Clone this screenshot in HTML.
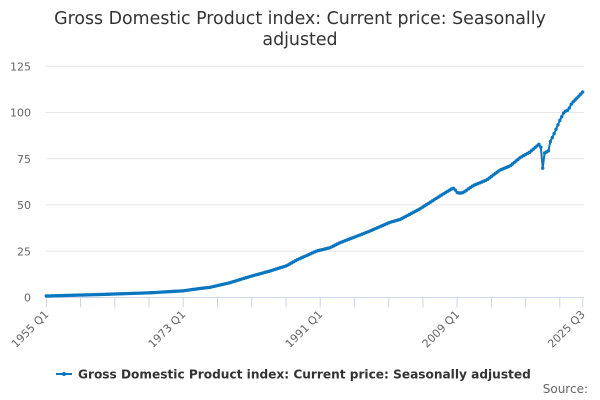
<!DOCTYPE html>
<html>
<head>
<meta charset="utf-8">
<style>
  html,body{margin:0;padding:0;background:#fff;}
  svg{display:block;font-family:"DejaVu Sans","Liberation Sans",sans-serif;}
</style>
</head>
<body>
<svg id="c" width="600" height="400" viewBox="0 0 600 400" xmlns="http://www.w3.org/2000/svg">
  <rect width="600" height="400" fill="#fff"/>
  <!-- title -->
  <text x="300" y="24" text-anchor="middle" font-size="17.4" fill="#333">Gross Domestic Product index: Current price: Seasonally</text>
  <text x="300" y="45" text-anchor="middle" font-size="17.4" fill="#333">adjusted</text>

  <!-- gridlines -->
  <g stroke="#e6e6e6" stroke-width="1">
    <line x1="46" x2="584" y1="66.3" y2="66.3"/>
    <line x1="46" x2="584" y1="112.5" y2="112.5"/>
    <line x1="46" x2="584" y1="158.7" y2="158.7"/>
    <line x1="46" x2="584" y1="204.9" y2="204.9"/>
    <line x1="46" x2="584" y1="251.1" y2="251.1"/>
  </g>
  <!-- y labels -->
  <g font-size="11" fill="#666" text-anchor="end">
    <text x="31" y="70.5">125</text>
    <text x="31" y="116.7">100</text>
    <text x="31" y="162.9">75</text>
    <text x="31" y="209.1">50</text>
    <text x="31" y="255.3">25</text>
    <text x="31" y="301.5">0</text>
  </g>
  <!-- x axis -->
  <line x1="46" x2="584" y1="297.5" y2="297.5" stroke="#ccd6eb" stroke-width="1"/>
  <g stroke="#ccd6eb" stroke-width="1">
    <line x1="46.3" x2="46.3" y1="297.5" y2="307.5"/>
    <line x1="80.5" x2="80.5" y1="297.5" y2="307.5"/>
    <line x1="114.8" x2="114.8" y1="297.5" y2="307.5"/>
    <line x1="149" x2="149" y1="297.5" y2="307.5"/>
    <line x1="183.2" x2="183.2" y1="297.5" y2="307.5"/>
    <line x1="217.5" x2="217.5" y1="297.5" y2="307.5"/>
    <line x1="251.7" x2="251.7" y1="297.5" y2="307.5"/>
    <line x1="286" x2="286" y1="297.5" y2="307.5"/>
    <line x1="320.2" x2="320.2" y1="297.5" y2="307.5"/>
    <line x1="354.4" x2="354.4" y1="297.5" y2="307.5"/>
    <line x1="388.7" x2="388.7" y1="297.5" y2="307.5"/>
    <line x1="422.9" x2="422.9" y1="297.5" y2="307.5"/>
    <line x1="457.1" x2="457.1" y1="297.5" y2="307.5"/>
    <line x1="491.4" x2="491.4" y1="297.5" y2="307.5"/>
    <line x1="525.6" x2="525.6" y1="297.5" y2="307.5"/>
    <line x1="559.8" x2="559.8" y1="297.5" y2="307.5"/>
    <line x1="582.7" x2="582.7" y1="297.5" y2="307.5"/>
  </g>
  <!-- x labels -->
  <g font-size="11" fill="#666" text-anchor="end">
    <text x="49.3" y="315" transform="rotate(-45 49.3 315)">1955 Q1</text>
    <text x="186.2" y="315" transform="rotate(-45 186.2 315)">1973 Q1</text>
    <text x="323.2" y="315" transform="rotate(-45 323.2 315)">1991 Q1</text>
    <text x="460.1" y="315" transform="rotate(-45 460.1 315)">2009 Q1</text>
    <text x="585.7" y="315" transform="rotate(-45 585.7 315)">2025 Q3</text>
  </g>

  <!-- series (static fallback) -->
  <polyline id="series" fill="none" stroke="#0a76bf" stroke-width="2.5" stroke-linejoin="round" stroke-linecap="round"
    points="46.3,296 100,294.5 150,292.8 183.3,290.8 200,288.5 210,287.3 230,282.7 250,276.5 270,271 286.7,265.7 296.7,260 316.7,251 330,247.7 340,242.7 360,235 370,231 390,222.3 400,219.5 420,208.8 440,196 451.4,189 453.3,188.3 455.2,190 457.1,192.5 459,193 461,193 463.3,192.5 473.3,185.5 486.7,180 500,170 510,166 520,157.7 530,152 538.9,144.3 540.8,147 542.7,168.3 544.6,153 546.5,152 548.4,151 550.3,141.7 555,131.7 560,120 564.3,111.7 568.3,110 571.7,103.3 578.3,96.7 582.7,92"/>
  <g id="markers" fill="#0a76bf"></g>

  <!-- legend -->
  <line x1="56" x2="72" y1="374" y2="374" stroke="#0a76bf" stroke-width="2"/>
  <circle cx="64" cy="374" r="2" fill="#0a76bf"/>
  <text x="78" y="378.5" font-size="12.15" font-weight="bold" fill="#333">Gross Domestic Product index: Current price: Seasonally adjusted</text>

  <!-- credits -->
  <text x="588" y="393" text-anchor="end" font-size="12" fill="#666">Source:</text>
</svg>
<script>
(function(){
  var pl=document.getElementById('series');
  var raw=pl.getAttribute('points').trim().split(/\s+/).map(function(p){var a=p.split(',');return [parseFloat(a[0]),parseFloat(a[1])];});
  function yAt(x){
    if(x<=raw[0][0])return raw[0][1];
    for(var i=1;i<raw.length;i++){
      if(x<=raw[i][0]){
        var a=raw[i-1],b=raw[i];var t=(x-a[0])/(b[0]-a[0]);return a[1]+t*(b[1]-a[1]);
      }
    }
    return raw[raw.length-1][1];
  }
  var pts=[];var g=document.getElementById('markers');var ns='http://www.w3.org/2000/svg';
  for(var q=0;q<=282;q++){
    var x=46.3+q*1.902;var y=yAt(x);
    pts.push(x.toFixed(2)+','+y.toFixed(2));
    var c=document.createElementNS(ns,'circle');
    c.setAttribute('cx',x.toFixed(2));c.setAttribute('cy',y.toFixed(2));c.setAttribute('r','1.7');
    g.appendChild(c);
  }
  pl.setAttribute('points',pts.join(' '));
  pl.setAttribute('stroke-width','2');
})();
</script>
</body>
</html>
